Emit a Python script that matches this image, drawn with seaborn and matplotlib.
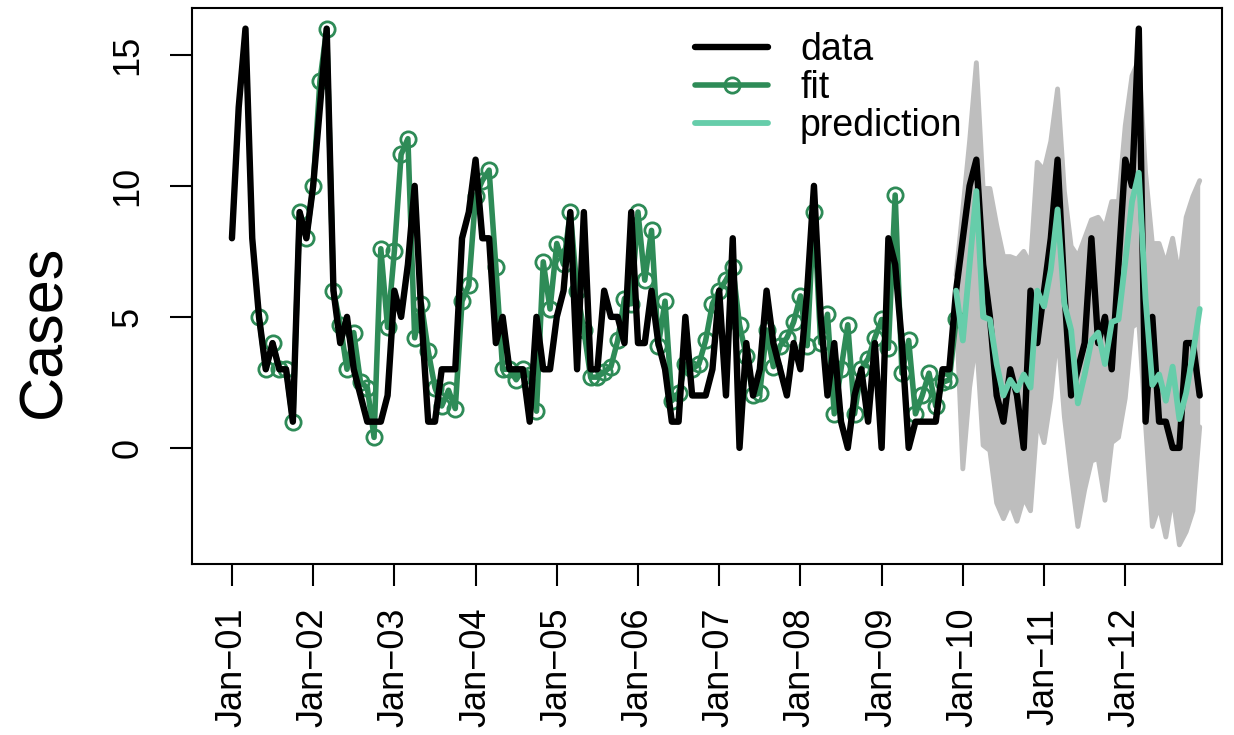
import numpy as np
import pandas as pd
import matplotlib
matplotlib.use("Agg")
import matplotlib.pyplot as plt
from matplotlib.lines import Line2D
import seaborn as sns

# monthly case counts, Jan-01 .. Dec-12
cases = [
    8, 13, 16, 8, 5, 3, 4, 3, 3, 1, 9, 8,
    10, 13, 16, 6, 4, 5, 3, 2, 1, 1, 1, 2,
    6, 5, 7, 10, 5, 1, 1, 3, 3, 3, 8, 9,
    11, 8, 8, 4, 5, 3, 3, 3, 1, 5, 3, 3,
    5, 6, 9, 3, 9, 3, 3, 6, 5, 5, 4, 9,
    4, 4, 6, 4, 3, 1, 1, 5, 2, 2, 2, 3,
    6, 2, 8, 0, 4, 2, 3, 6, 4, 3, 2, 4,
    3, 6, 10, 5, 2, 4, 1, 0, 2, 3, 1, 4,
    0, 8, 7, 4, 0, 1, 1, 1, 1, 3, 3, 6,
    8, 10, 11, 7, 5, 2, 1, 3, 2, 0, 6, 4,
    6, 8, 11, 6, 2, 3, 4, 8, 4, 5, 3, 7,
    11, 10, 16, 1, 5, 1, 1, 0, 0, 4, 4, 2,
]

# in-sample fit, May-01 .. Dec-09
fit_start = 4
fit = [
    5.0, 3.0, 4.0, 3.0, 3.0, 1.0, 9.0, 8.0,
    10.0, 14.0, 16.0, 6.0, 4.7, 3.0, 4.4, 2.5, 2.3, 0.4, 7.6, 4.6,
    7.5, 11.2, 11.8, 4.2, 5.5, 3.7, 2.3, 1.6, 2.2, 1.5, 5.6, 6.2,
    9.6, 10.2, 10.6, 6.9, 3.0, 3.0, 2.6, 3.0, 2.8, 1.4, 7.1, 5.3,
    7.8, 7.0, 9.0, 6.0, 4.5, 2.7, 2.7, 2.9, 3.1, 4.1, 5.7, 5.5,
    9.0, 6.4, 8.3, 3.9, 5.6, 1.8, 2.1, 3.2, 3.0, 3.2, 4.1, 5.5,
    6.0, 6.4, 6.9, 4.7, 3.5, 2.0, 2.1, 4.5, 3.1, 3.9, 4.2, 4.8,
    5.8, 3.9, 9.0, 4.0, 5.1, 1.3, 3.0, 4.7, 1.3, 3.0, 3.4, 4.2,
    4.9, 3.8, 9.65, 2.85, 4.1, 1.3, 2.0, 2.85, 1.6, 2.5, 2.6, 4.9,
]

# out-of-sample prediction with interval, Dec-09 .. Dec-12
pred_start = 107
pred = [
    6.0,
    4.1, 7.0, 9.8, 5.0, 4.9, 3.2, 2.0, 2.6, 2.2, 2.8, 2.3, 6.0,
    5.4, 6.8, 9.1, 5.5, 4.5, 1.7, 2.8, 4.1, 4.4, 3.2, 4.8, 4.9,
    7.1, 9.4, 10.5, 5.7, 2.4, 2.8, 1.8, 3.1, 1.1, 2.1, 3.6, 5.3,
]
pred_upper = [
    6.6,
    9.1, 11.7, 14.7, 9.9, 9.9, 8.5, 7.3, 7.3, 7.2, 7.5, 7.0, 10.9,
    10.6, 11.7, 13.7, 9.8, 7.7, 7.3, 8.0, 8.7, 8.8, 8.4, 9.4, 9.4,
    12.3, 14.2, 14.8, 10.5, 7.8, 7.8, 7.0, 8.0, 6.5, 8.8, 9.6, 10.2,
]
pred_lower = [
    5.4,
    -0.8, 2.3, 4.2, 0.1, -0.1, -2.1, -2.7, -2.1, -2.8, -1.9, -2.4, 1.1,
    0.2, 1.9, 4.5, 1.2, -1.0, -3.0, -1.6, -0.5, -0.4, -2.0, 0.2, 0.4,
    1.9, 4.6, 4.8, 0.9, -3.0, -2.2, -3.4, -1.8, -3.7, -3.2, -2.4, 0.8,
]

tick_labels = ["Jan\u2212%02d" % y for y in range(1, 13)]

SEAGREEN = "#2e8b57"
AQUA = "#66cdaa"
GREY = "#bebebe"


def main():
    sns.set_style("white")
    plt.rcParams["font.family"] = ["Liberation Sans", "DejaVu Sans"]
    plt.rcParams["text.color"] = "black"

    t = np.arange(len(cases))
    df = pd.DataFrame({"t": t, "cases": cases})
    fit_df = pd.DataFrame({"t": t[fit_start:fit_start + len(fit)], "fit": fit})
    pr = slice(pred_start, pred_start + len(pred))
    pred_df = pd.DataFrame({"t": t[pr], "pred": pred,
                            "lo": pred_lower, "hi": pred_upper})

    fig = plt.figure(figsize=(12.34, 7.35), dpi=100)
    ax = fig.add_axes([0.1556, 0.2327, 0.8347, 0.7565])

    # prediction interval
    ax.fill_between(pred_df["t"], pred_df["lo"], pred_df["hi"],
                    color=GREY, lw=0, zorder=1)
    sns.lineplot(data=pred_df, x="t", y="hi", ax=ax, color=GREY, lw=3.5,
                 zorder=1, legend=False)
    sns.lineplot(data=pred_df, x="t", y="lo", ax=ax, color=GREY, lw=3.5,
                 zorder=1, legend=False)

    sns.lineplot(data=fit_df, x="t", y="fit", ax=ax, color=SEAGREEN, lw=4,
                 marker="o", markersize=11, markerfacecolor="none",
                 markeredgecolor=SEAGREEN, markeredgewidth=2.0,
                 zorder=2, legend=False)
    sns.lineplot(data=df, x="t", y="cases", ax=ax, color="black", lw=4.6,
                 zorder=3, legend=False)
    sns.lineplot(data=pred_df, x="t", y="pred", ax=ax, color=AQUA, lw=4.2,
                 zorder=4, legend=False)

    ax.set_xlim(-5.9, 146.3)
    ax.set_ylim(-4.43, 16.79)
    ax.set_xticks(t[::12])
    ax.set_xticklabels(tick_labels, rotation=90)
    ax.set_yticks([0, 5, 10, 15])
    ax.set_yticklabels(["0", "5", "10", "15"], rotation=90, va="center")
    ax.set_xlabel("")
    ax.set_ylabel("")

    for s in ax.spines.values():
        s.set_visible(True)
        s.set_color("black")
        s.set_linewidth(1.5)
    ax.tick_params(axis="both", which="major", direction="out", length=15.5,
                   width=1.5, color="black", labelsize=26, labelcolor="black",
                   bottom=True, left=True)
    ax.tick_params(axis="x", pad=16)
    ax.tick_params(axis="y", pad=18)

    fig.text(45 / 1234, 1 - 331 / 735, "Cases", rotation=90, fontsize=44,
             ha="center", va="center", color="black")

    handles = [
        Line2D([], [], color="black", lw=4.6),
        Line2D([], [], color=SEAGREEN, lw=4, marker="o", markersize=11,
               markerfacecolor="none", markeredgewidth=2.0),
        Line2D([], [], color=AQUA, lw=4.2),
    ]
    fig.legend(handles, ["data", "fit", "prediction"], loc="upper left",
               bbox_to_anchor=(695 / 1234, 1 - 32 / 735), frameon=False,
               fontsize=27, handlelength=1.95, handletextpad=0.85,
               labelspacing=0.05, borderpad=0, borderaxespad=0,
               labelcolor="black")

    fig.savefig("out.png", dpi=100)


if __name__ == "__main__":
    main()
